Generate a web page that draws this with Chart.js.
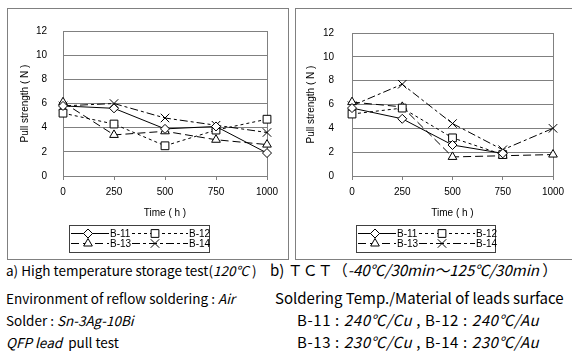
<!DOCTYPE html>
<html>
<head>
<meta charset="utf-8">
<script src="https://cdn.jsdelivr.net/npm/chart.js@4.4.1/dist/chart.umd.min.js"></script>
<style>
  body { margin: 0; width: 572px; height: 352px; background: #fff; position: relative; overflow: hidden;
         font-family: 'Noto Sans CJK JP', 'Liberation Sans', sans-serif; color: #000; }
  .panel { position: absolute; top: 8px; height: 250px; border: 1px solid #808080; }
  #p1 { left: 7px; width: 280px; }
  #p2 { left: 295px; width: 300px; }
  canvas { position: absolute; }
  .cap { position: absolute; font-size: 13.5px; line-height: 16px; white-space: pre; }
  .cap.r { font-size: 15px; }
  .cap.rb { font-size: 15px; letter-spacing: 0.6px; }
  .cap i { font-style: italic; }
</style>
</head>
<body>
<div class="panel" id="p1"></div>
<div class="panel" id="p2"></div>
<canvas id="c1" width="279" height="249" style="left:8px;top:9px;width:279px;height:249px"></canvas>
<canvas id="c2" width="276" height="249" style="left:296px;top:9px;width:276px;height:249px"></canvas>

<div class="cap" style="left:6px;top:262px">a) High temperature storage test(<i>120℃</i> )</div>
<div class="cap r" style="left:270px;top:262px">b) ＴＣＴ（<i>-40℃/30min～125℃/30min</i> ）</div>
<div class="cap" style="left:6px;top:290px">Environment of reflow soldering : <i>Air</i></div>
<div class="cap" style="left:6px;top:312px">Solder : <i>Sn-3Ag-10Bi</i></div>
<div class="cap" style="left:6px;top:334px"><i>QFP lead</i>  pull test</div>
<div class="cap r" style="left:275px;top:290px">Soldering Temp./Material of leads surface</div>
<div class="cap rb" style="left:297px;top:312px">B-11 : <i>240℃/Cu</i> , B-12 : <i>240℃/Au</i></div>
<div class="cap rb" style="left:297px;top:334px">B-13 : <i>230℃/Cu</i> , B-14 : <i>230℃/Au</i></div>

<script>
// ---- data ----
const timeLabels = ['0', '250', '500', '750', '1000'];
const seriesNames = ['B-11', 'B-12', 'B-13', 'B-14'];

// a) high temperature storage test
const htsB11 = [5.8, 5.6, 3.9, 4.1, 1.9];
const htsB12 = [5.2, 4.3, 2.5, 3.8, 4.7];
const htsB13 = [6.1, 3.4, 3.7, 3.0, 2.6];
const htsB14 = [5.8, 6.0, 4.8, 4.2, 3.6];

// b) TCT
const tctB11 = [5.7, 4.8, 2.6, 1.9, null];
const tctB12 = [5.2, 5.7, 3.2, 1.8, null];
const tctB13 = [6.2, 5.8, 1.6, 1.7, 1.8];
const tctB14 = [5.9, 7.7, 4.4, 2.2, 4.0];

const yMin = 0, yMax = 12, yStep = 2;

// ---- styles ----
const FONT = "'Liberation Sans', Arial, sans-serif";
const NARROW = "'Liberation Sans Narrow', 'Liberation Sans', Arial, sans-serif";
const GRID = '#808080';
const markers = ['rectRot', 'rect', 'triangle', 'crossRot'];
const markerSize = [4.5, 5.5, 5, 6];
const dashes = [[], [3, 3], [8, 4], [8, 3, 3, 3]];

// legend in a box, drawn from the datasets
const boxLegend = {
  id: 'boxLegend',
  afterDraw(chart, args, opts) {
    const ctx = chart.ctx;
    ctx.save();
    ctx.lineWidth = 1;
    ctx.strokeStyle = '#404040';
    ctx.strokeRect(opts.x + 0.5, opts.y + 0.5, opts.w, opts.h);
    chart.data.datasets.forEach((ds, i) => {
      const col = i % 2, row = Math.floor(i / 2);
      const x0 = opts.x + (col ? 63 : 2);
      const len = col ? 56 : 38;
      const y = opts.y + (row ? 18 : 8) + 0.5;
      ctx.strokeStyle = '#000';
      ctx.setLineDash(ds.borderDash);
      ctx.beginPath();
      ctx.moveTo(x0, y);
      ctx.lineTo(x0 + len, y);
      ctx.stroke();
      ctx.setLineDash([]);
      ctx.fillStyle = '#fff';
      Chart.helpers.drawPoint(ctx, { pointStyle: ds.pointStyle, radius: ds.pointRadius, borderWidth: 1, rotation: 0 },
        x0 + (col ? 23 : 17), y);
      ctx.fillStyle = '#000';
      ctx.font = '10px ' + NARROW;
      ctx.textBaseline = 'middle';
      ctx.fillText(ds.label, x0 + len + 1, y + 0.5);
    });
    ctx.restore();
  }
};

function makeChart(id, values, lay) {
  const datasets = values.map((v, i) => ({
    label: seriesNames[i],
    data: v,
    borderColor: '#000',
    borderWidth: 1,
    borderDash: dashes[i],
    pointStyle: markers[i],
    pointRadius: markerSize[i],
    pointBorderColor: '#000',
    pointBackgroundColor: '#fff',
    pointBorderWidth: 1,
    tension: 0,
    spanGaps: false
  }));

  return new Chart(document.getElementById(id), {
    type: 'line',
    data: { labels: timeLabels, datasets: datasets },
    plugins: [boxLegend],
    options: {
      responsive: false,
      animation: false,
      layout: { padding: { top: lay.top, right: lay.right, bottom: 37, left: 0 } },
      plugins: {
        legend: { display: false },
        tooltip: { enabled: false },
        boxLegend: lay.legend
      },
      scales: {
        x: {
          type: 'category',
          offset: false,
          grid: {
            offset: false,
            color: c => c.index === timeLabels.length - 1 ? GRID : 'rgba(0,0,0,0)',
            tickColor: GRID,
            tickLength: 4
          },
          border: { color: GRID },
          ticks: { color: '#000', font: { family: FONT, size: 10 }, padding: 6, maxRotation: 0 },
          title: { display: true, text: 'Time ( h )', color: '#000',
                   font: { family: FONT, size: 10 }, padding: { top: 0, bottom: 2 } },
          afterFit: s => { s.height = 45; }
        },
        y: {
          min: yMin,
          max: yMax,
          grid: { color: GRID, drawTicks: false },
          border: { color: GRID },
          ticks: { stepSize: yStep, color: '#000', font: { family: FONT, size: 10 }, padding: lay.tickPad },
          title: { display: true, text: 'Pull strength ( N )', color: '#000',
                   font: { family: NARROW, size: 10 }, padding: { top: lay.titlePad, bottom: 0 } },
          afterFit: s => { s.width = lay.yWidth; }
        }
      }
    }
  });
}

makeChart('c1', [htsB11, htsB12, htsB13, htsB14],
  { top: 16, right: 20, yWidth: 55, tickPad: 16, titlePad: 11,
    legend: { x: 61, y: 216, w: 140, h: 27 } });

makeChart('c2', [tctB11, tctB12, tctB13, tctB14],
  { top: 20, right: 19, yWidth: 56, tickPad: 18, titlePad: 9,
    legend: { x: 60, y: 216, w: 139, h: 27 } });
</script>
</body>
</html>
